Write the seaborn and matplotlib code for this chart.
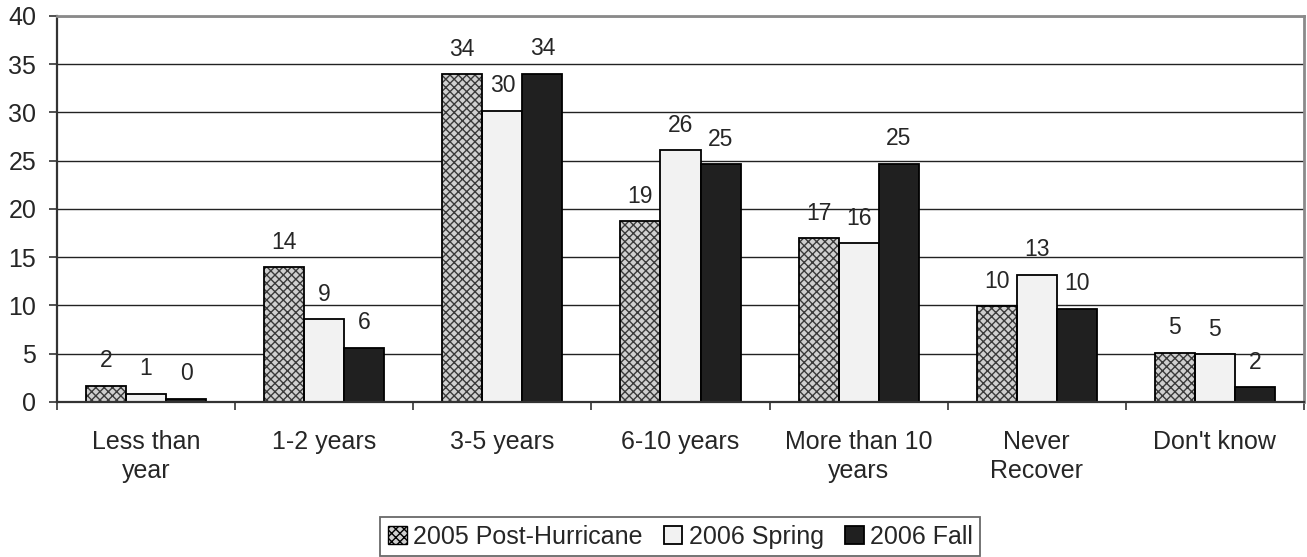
import numpy as np
import pandas as pd
import matplotlib
matplotlib.use("Agg")
import matplotlib.pyplot as plt
from matplotlib.patches import Patch, Rectangle
import seaborn as sns

# ── Data ──────────────────────────────────────────────────────────────────────
periods = ["Less than\nyear", "1-2 years", "3-5 years", "6-10 years",
           "More than 10\nyears", "Never\nRecover", "Don't know"]
surveys = ["2005 Post-Hurricane", "2006 Spring", "2006 Fall"]

post_hurricane_2005 = [1.67, 13.96, 33.96, 18.75, 16.95, 9.90, 5.10]
spring_2006 = [0.87, 8.55, 30.20, 26.10, 16.43, 13.20, 4.93]
fall_2006 = [0.31, 5.60, 34.00, 24.65, 24.70, 9.66, 1.53]

colors = ["#cfcfcf", "#f2f2f2", "#202020"]

df = pd.DataFrame({
    "period": periods * 3,
    "survey": np.repeat(surveys, len(periods)),
    "pct": post_hurricane_2005 + spring_2006 + fall_2006,
})

# ── Style ─────────────────────────────────────────────────────────────────────
sns.set_style("white")
plt.rcParams["font.family"] = ["Liberation Sans", "DejaVu Sans"]
plt.rcParams["hatch.linewidth"] = 1.0

fig = plt.figure(figsize=(13.07, 5.57), dpi=100)
ax = fig.add_axes([0.0436, 0.2783, 0.9541, 0.6930])

sns.barplot(data=df, x="period", y="pct", hue="survey", order=periods,
            hue_order=surveys, palette=colors, width=0.675, gap=0,
            edgecolor="black", linewidth=1.3, saturation=1, legend=False, ax=ax)

# hatched first series: draw pattern, then a black outline on top
for bar in ax.containers[0]:
    bar.set_hatch("xxxx")
    bar.set_edgecolor("#3a3a3a")
    bar.set_linewidth(0)
    ax.add_patch(Rectangle(bar.get_xy(), bar.get_width(), bar.get_height(),
                           fill=False, edgecolor="black", linewidth=1.3, zorder=bar.get_zorder()))

# data labels
for cont in ax.containers:
    for bar in cont:
        h = bar.get_height()
        ax.annotate(f"{h:.0f}", (bar.get_x() + bar.get_width() / 2, h),
                    xytext=(0, 25), textcoords="offset pixels",
                    ha="center", va="center", fontsize=16.5)

# ── Axes ──────────────────────────────────────────────────────────────────────
ax.set_ylim(0, 40)
ax.set_xlim(-0.5, len(periods) - 0.5)
ax.set_yticks(np.arange(0, 41, 5))
ax.yaxis.grid(True, color="#222222", linewidth=1.0)
ax.set_axisbelow(True)
ax.set_xlabel("")
ax.set_ylabel("")

ax.set_xticks(np.arange(len(periods) + 1) - 0.5)
ax.set_xticklabels([])
ax.set_xticks(np.arange(len(periods)), minor=True)
ax.set_xticklabels(periods, minor=True, fontsize=18, linespacing=1.25)
ax.tick_params(axis="x", which="major", direction="out", length=6,
               width=1.2, color="#333333", bottom=True)
ax.tick_params(axis="x", which="minor", length=0, pad=20)
ax.tick_params(axis="y", direction="out", length=6, width=1.2,
               color="#333333", left=True, labelsize=18, pad=9)

for side in ["top", "right"]:
    ax.spines[side].set_color("#8a8a8a")
    ax.spines[side].set_linewidth(2)
for side in ["left", "bottom"]:
    ax.spines[side].set_color("#333333")
    ax.spines[side].set_linewidth(1.6)

# ── Legend ────────────────────────────────────────────────────────────────────
handles = [
    Patch(facecolor=colors[0], edgecolor="black", hatch="xxxx", linewidth=1.0),
    Patch(facecolor=colors[1], edgecolor="black", linewidth=1.3),
    Patch(facecolor=colors[2], edgecolor="black", linewidth=1.3),
]
leg = fig.legend(handles, surveys, loc="center", bbox_to_anchor=(0.5205, 0.0368),
                 ncol=3, fontsize=18, frameon=True, fancybox=False,
                 handlelength=0.75, handleheight=0.75, handletextpad=0.25,
                 columnspacing=0.85, borderpad=0.3, borderaxespad=0)
leg.get_frame().set_edgecolor("#444444")
leg.get_frame().set_linewidth(1.3)

fig.savefig("out.png", dpi=100)
